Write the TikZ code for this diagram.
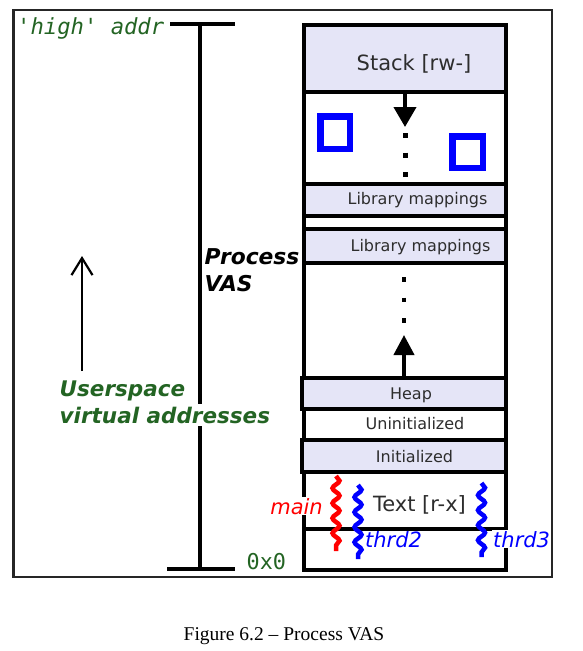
\documentclass[tikz,border=0pt]{standalone}
\usepackage{fontspec}
\setmainfont{DejaVu Sans}
\newfontfamily\capfont{Liberation Serif}
\newfontfamily\monoF{DejaVu Sans Mono}
\usetikzlibrary{arrows.meta,decorations.pathmorphing}
\definecolor{lav}{RGB}{229,229,247}
\definecolor{dgreen}{RGB}{35,100,35}
\definecolor{txtgray}{RGB}{45,45,45}
\definecolor{pblue}{RGB}{0,0,255}
\definecolor{pred}{RGB}{255,0,0}
\tikzset{
  seg/.style={draw, line width=4pt, fill=white, minimum width=202pt, inner sep=0pt, outer sep=0pt},
  lavseg/.style={seg, fill=lav},
  memtxt/.style={text=txtgray, inner sep=0pt, anchor=base},
  bigtxt/.style={font=\fontsize{21}{25}\selectfont},
  smalltxt/.style={font=\fontsize{16}{19}\selectfont},
  bsq/.style={draw=pblue, line width=6.5pt, inner sep=0pt},
  squig/.style={line width=4.5pt, decorate, decoration={snake, segment length=15pt, amplitude=3.5pt}},
  thrdlbl/.style={font=\fontsize{21}{25}\selectfont\itshape, inner sep=1pt},
  greenbold/.style={font=\fontsize{21.5}{27}\selectfont\bfseries\itshape, text=dgreen, inner sep=0pt},
}
\begin{document}
\begin{tikzpicture}[x=1pt,y=-1pt]
\useasboundingbox (0,0) rectangle (582,651);
% outer frame
\draw[line width=2.5pt, black!85] (13.3,10) rectangle (552,577);

% memory column
\node[lavseg, minimum height=67pt] (stack) at (404.5,58.5) {};
\node[seg, minimum height=91.5pt] (free1) at (404.5,137.75) {};
\node[lavseg, minimum height=32.5pt] (lib1) at (404.5,199.75) {};
\node[seg, minimum height=13pt] (gapA) at (404.5,222.5) {};
\node[lavseg, minimum height=34pt] (lib2) at (404.5,246) {};
\node[seg, minimum height=114.5pt] (free2) at (404.5,320.25) {};
\node[lavseg, minimum height=31.5pt, minimum width=204pt] (heap) at (403.5,393.25) {};
\node[seg, minimum height=31pt] (uninit) at (404.5,424.5) {};
\node[lavseg, minimum height=32pt, minimum width=204pt] (init) at (403.5,456) {};
\node[seg, minimum height=56.5pt] (textseg) at (404.5,500.25) {};
\node[seg, minimum height=41.5pt] (bottom) at (404.5,549.25) {};

% segment texts
\node[memtxt, bigtxt] (stackt) at (414,70) {Stack [rw-]};
\node[memtxt, smalltxt] (lib1t) at (417.5,204) {Library mappings};
\node[memtxt, smalltxt] (lib2t) at (420.5,251) {Library mappings};
\node[memtxt, smalltxt] (heapt) at (411,399.3) {Heap};
\node[memtxt, smalltxt] (uninitt) at (415,429) {Uninitialized};
\node[memtxt, smalltxt] (initt) at (414.5,462) {Initialized};
\node[memtxt, bigtxt] (textt) at (419.5,511.7) {Text [r-x]};

% stack growth arrow
\coordinate (stip) at (405,127);
\draw[line width=4pt, -{Triangle[length=20pt,width=22pt]}] (stack.south -| stip) -- (stip);
\draw[line width=5pt, dash pattern=on 5pt off 14.5pt] (405,133) -- (405,178);

% heap growth arrow
\coordinate (htip) at (404,335);
\draw[line width=4pt, -{Triangle[length=20pt,width=20pt]}] (heap.north -| htip) -- (htip);
\draw[line width=4.5pt, dash pattern=on 4.5pt off 16pt] (404,277) -- (404,323);

% blue squares
\node[bsq, minimum width=29.5pt, minimum height=32.5pt] (sq1) at (335,132.5) {};
\node[bsq, minimum width=30.5pt, minimum height=31.5pt] (sq2) at (467.5,152) {};

% VAS bar
\coordinate (vasT) at (200,23.5);
\coordinate (vasB) at (200,569);
\draw[line width=4pt] (vasT) -- (vasB);
\draw[line width=4pt] ([xshift=-30pt]vasT) -- ([xshift=35pt]vasT);
\draw[line width=4pt] ([xshift=-33pt]vasB) -- ([xshift=35pt]vasB);

% up arrow
\coordinate (ua0) at (82,371);
\coordinate (ua1) at (82,256);
\draw[line width=2.2pt, -{Straight Barb[length=17pt,width=21pt]}] (ua0) -- (ua1);

% thread squiggles
\draw[squig, draw=pred] (336,476) -- (336,551);
\draw[squig, draw=pblue] (358,485) -- (358,559);
\draw[squig, draw=pblue] (481.5,483) -- (481.5,557);

% labels
\node[font=\monoF\itshape\fontsize{22.2}{26}\selectfont, text=dgreen, anchor=base west, inner sep=0pt] (high) at (17,34) {\char39 high\char39{} addr};
\node[font=\monoF\fontsize{21.8}{25}\selectfont, text=dgreen, anchor=base west, inner sep=0pt] (zero) at (246.5,569.5) {0x0};
\node[font=\fontsize{21.8}{27}\selectfont\bfseries\itshape, anchor=north west, align=left, inner sep=0pt] (vas) at (204.5,248) {Process\\VAS};
\node[greenbold, anchor=north west] (us1) at (59.5,380.5) {Userspace};
\node[greenbold, anchor=base west, fill=white, inner sep=3pt] (us2) at (56.5,423) {virtual addresses};

\node[thrdlbl, text=pred, fill=white, anchor=base east] (mainl) at (324,514) {main};
\node[thrdlbl, text=pblue, anchor=base west] (t2) at (364,547) {thrd2};
\node[thrdlbl, text=pblue, fill=white, anchor=base west] (t3) at (492,547) {thrd3};

% caption
\node[font=\capfont\fontsize{19.5}{23}\selectfont, anchor=base, inner sep=0pt] (cap) at (284,640) {Figure 6.2 – Process VAS};
\end{tikzpicture}
\end{document}
